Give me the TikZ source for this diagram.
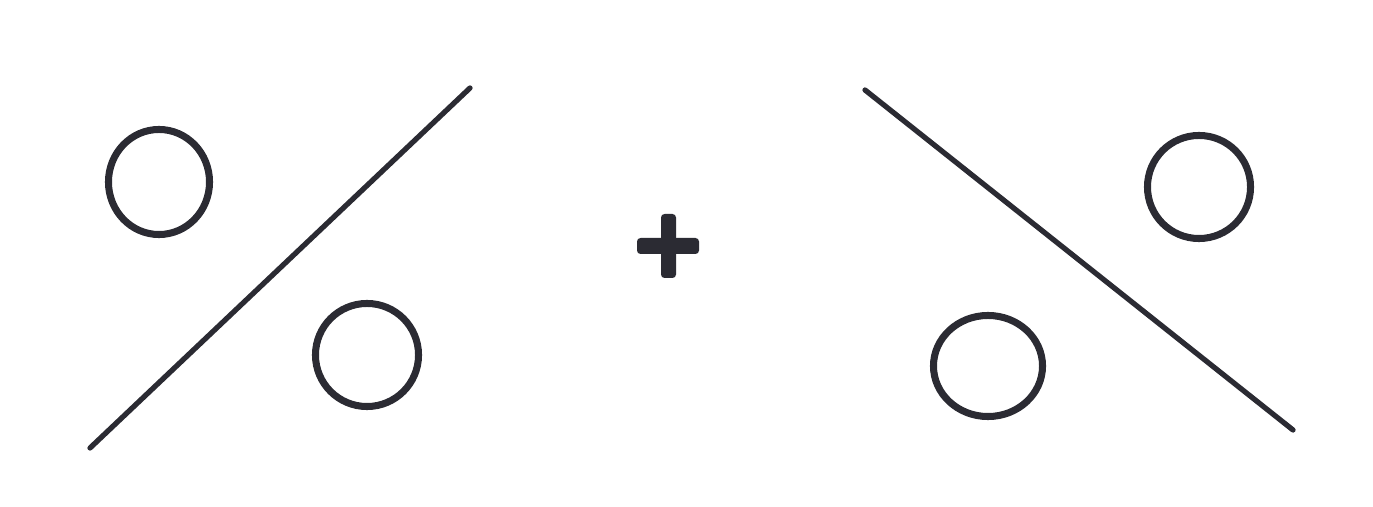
\documentclass[tikz,border=0pt]{standalone}
\usetikzlibrary{shapes.geometric}
\definecolor{ink}{HTML}{2B2B33}
\begin{document}
\begin{tikzpicture}[x=0.01cm,y=-0.01cm,
  ring/.style={draw=ink,line width=2pt,ellipse,inner sep=0pt},
  stroke/.style={draw=ink,line width=1.5pt,line cap=round}]
\useasboundingbox (0,0) rectangle (1373,507);
% left group
\coordinate (l1) at (90,448);
\coordinate (l2) at (470,88);
\draw[stroke] (l1) -- (l2);
\node[ring,minimum width=101\pgflinewidth*0+1.01cm,minimum height=1.05cm] (c1) at (159,182) {};
\node[ring,minimum width=1.03cm,minimum height=1.03cm] (c2) at (367,355) {};
% plus
\fill[ink,rounded corners=1pt] (637,238) rectangle (699,254);
\fill[ink,rounded corners=1pt] (661,214) rectangle (676,278);
\coordinate (plus) at (668,246);
% right group
\coordinate (r1) at (865,90);
\coordinate (r2) at (1293,430);
\draw[stroke] (r1) -- (r2);
\node[ring,minimum width=1.03cm,minimum height=1.03cm] (c3) at (1199,187) {};
\node[ring,minimum width=1.09cm,minimum height=1.01cm] (c4) at (988,366) {};
\end{tikzpicture}
\end{document}
